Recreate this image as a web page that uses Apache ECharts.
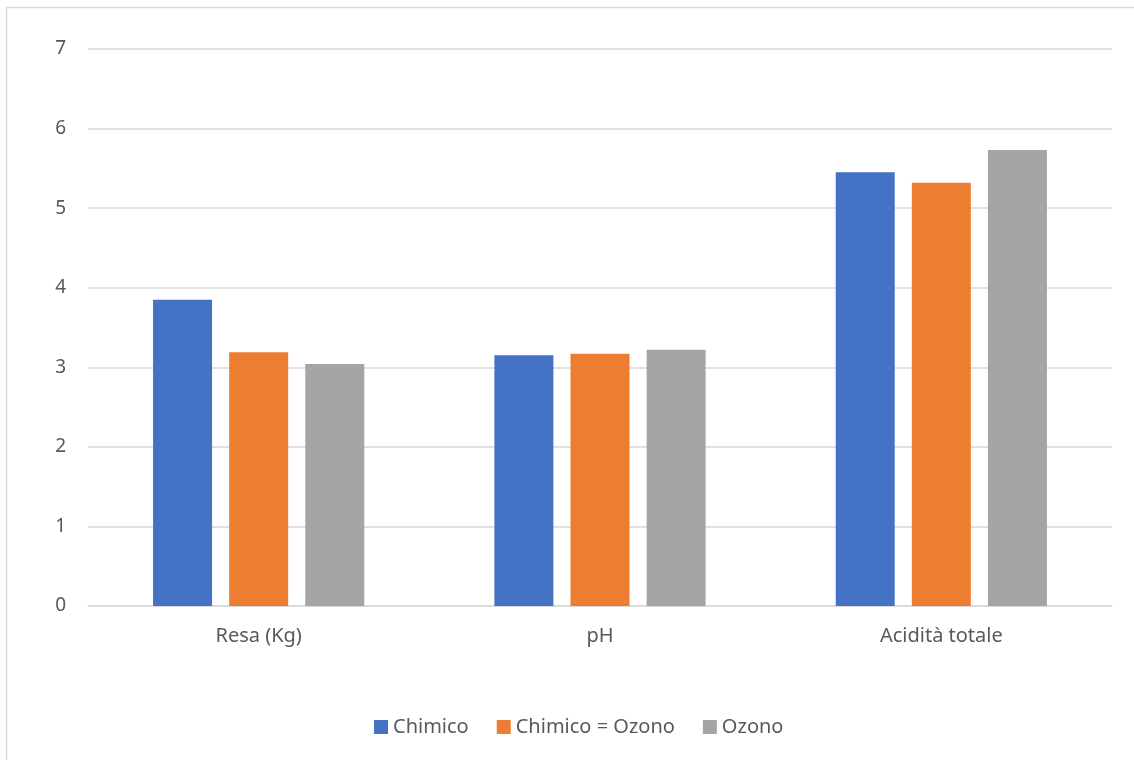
<!DOCTYPE html>
<html>
<head>
<meta charset="utf-8">
<script src="https://cdn.jsdelivr.net/npm/echarts@6/dist/echarts.min.js"></script>
<style>
  html, body { margin: 0; padding: 0; background: #fff; }
  #chart { width: 1134px; height: 760px; }
</style>
</head>
<body>
<div id="chart"></div>
<script>
// Categories and measured values per treatment
const categories = ['Resa (Kg)', 'pH', 'Acidità totale'];
const chimico = [3.85, 3.15, 5.45];
const chimicoOzono = [3.19, 3.17, 5.32];
const ozono = [3.04, 3.22, 5.73];
const seriesNames = ['Chimico', 'Chimico = Ozono', 'Ozono'];
const colors = ['#4472C4', '#ED7D31', '#A5A5A5'];

const chart = echarts.init(document.getElementById('chart'), null, { renderer: 'canvas' });

const font = 'Noto Sans, DejaVu Sans, sans-serif';

function bar(name, data, color) {
  return {
    name: name,
    type: 'bar',
    data: data,
    barWidth: 59,
    barGap: '29%',
    itemStyle: { color: color },
    emphasis: { disabled: true }
  };
}

chart.setOption({
  animation: false,
  backgroundColor: '#fff',
  color: colors,
  graphic: [{
    type: 'rect',
    shape: { x: 6.5, y: 7.5, width: 1140, height: 760 },
    style: { fill: 'none', stroke: '#d9d9d9', lineWidth: 1.5 },
    silent: true
  }],
  grid: { left: 88, right: 22, top: 49, bottom: 154 },
  legend: {
    bottom: 18,
    left: 369,
    itemWidth: 14,
    itemHeight: 14,
    itemGap: 28,
    icon: 'rect',
    textStyle: { color: '#595959', fontSize: 20, fontFamily: font },
    data: seriesNames
  },
  xAxis: {
    type: 'category',
    data: categories,
    axisLine: { lineStyle: { color: '#d9d9d9', width: 1.5 } },
    axisTick: { show: false },
    axisLabel: { color: '#595959', fontSize: 20, fontFamily: font, margin: 20 }
  },
  yAxis: {
    type: 'value',
    min: 0,
    max: 7,
    interval: 1,
    axisLine: { show: false },
    axisTick: { show: false },
    splitLine: { lineStyle: { color: '#d9d9d9', width: 1.5 } },
    axisLabel: { color: '#595959', fontSize: 19, fontFamily: font, margin: 22 }
  },
  series: [
    bar(seriesNames[0], chimico, colors[0]),
    bar(seriesNames[1], chimicoOzono, colors[1]),
    bar(seriesNames[2], ozono, colors[2])
  ]
});
</script>
</body>
</html>
